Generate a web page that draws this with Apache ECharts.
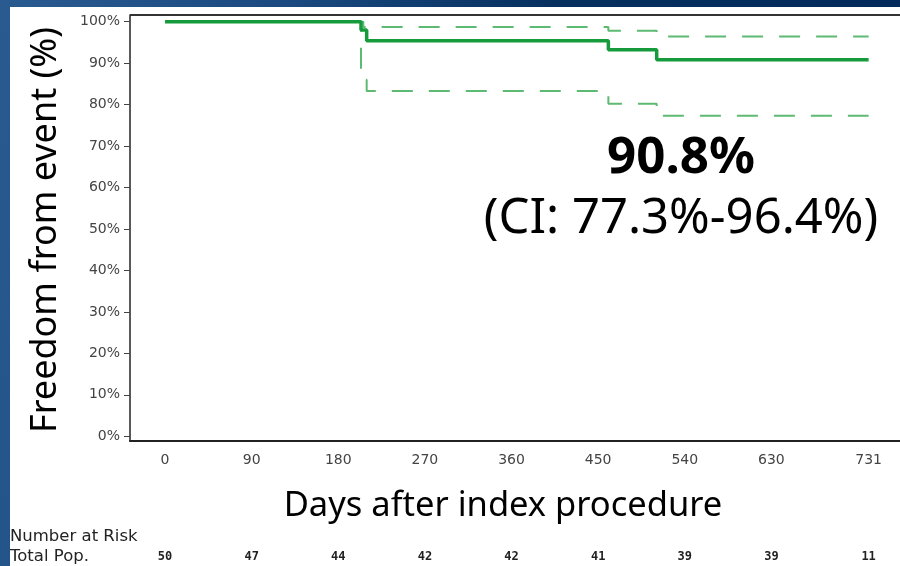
<!DOCTYPE html>
<html>
<head>
<meta charset="utf-8">
<script src="https://cdn.jsdelivr.net/npm/echarts@6/dist/echarts.min.js"></script>
<style>
html,body{margin:0;padding:0;}
#chart{width:900px;height:566px;}
</style>
</head>
<body>
<div id="chart"></div>
<script>
// ---- data ----
const eventDays = [0, 203.6, 209.5, 460.6, 510.8, 731];
const survival = [100, 98, 95.4, 93.2, 90.8, 90.8];
const lowerCI = [100, 86, 83.3, 80.2, 77.3, 77.3];
const upperDays = [0, 206, 460.6, 510.8, 731];
const upperCI = [100, 98.7, 97.8, 96.4, 96.4];
const xTickValues = [0, 90, 180, 270, 360, 450, 540, 630, 731];
const yTickValues = [0, 10, 20, 30, 40, 50, 60, 70, 80, 90, 100];
const atRiskCounts = [50, 47, 44, 42, 42, 41, 39, 39, 11];
const xTitle = 'Days after index procedure';
const yTitle = 'Freedom from event (%)';
const headline = '90.8%';
const ciText = '(CI: 77.3%-96.4%)';

const pair = (xs, ys) => xs.map((x, i) => [x, ys[i]]);

const chart = echarts.init(document.getElementById('chart'), null, {renderer: 'canvas'});
const mainGreen = '#169b3c';
const ciGreen = '#5cba72';
const X_MIN = -36.4, X_MAX = 763.6;

chart.setOption({
  animation: false,
  backgroundColor: {
    type: 'linear', x: 0, y: 0, x2: 1, y2: 0.3,
    colorStops: [{offset: 0, color: '#2a5b90'}, {offset: 0.3, color: '#1a4a80'}, {offset: 0.6, color: '#07305f'}, {offset: 1, color: '#032a5a'}]
  },
  graphic: [
    {type: 'rect', z: -10, shape: {x: 10, y: 7, width: 890, height: 559}, style: {fill: '#ffffff'}},
    {type: 'line', z: 5, shape: {x1: 130, y1: 15, x2: 900, y2: 15}, style: {stroke: '#333', lineWidth: 2}},
    {type: 'text', x: 681, y: 158, style: {text: headline, font: 'bold 51px "Noto Sans"', fill: '#000', align: 'center', verticalAlign: 'middle'}},
    {type: 'text', x: 681, y: 219, style: {text: ciText, font: '49px "Noto Sans"', fill: '#000', align: 'center', verticalAlign: 'middle'}},
    {type: 'text', x: 503, y: 506, style: {text: xTitle, font: '34.5px "Noto Sans"', fill: '#000', align: 'center', verticalAlign: 'middle'}},
    {type: 'text', x: 46, y: 230, rotation: Math.PI / 2, style: {text: yTitle, font: '36px "Noto Sans"', fill: '#000', align: 'center', verticalAlign: 'middle'}},
    {type: 'text', x: 10, y: 537, style: {text: 'Number at Risk', font: '16.5px "DejaVu Sans"', fill: '#222', align: 'left', verticalAlign: 'middle'}},
    {type: 'text', x: 10, y: 557, style: {text: 'Total Pop.', font: '16.5px "DejaVu Sans"', fill: '#222', align: 'left', verticalAlign: 'middle'}}
  ],
  grid: {left: 130, top: 15, right: 0, bottom: 125, containLabel: false},
  xAxis: [
    {
      type: 'value', min: X_MIN, max: X_MAX,
      axisLine: {show: true, onZero: false, lineStyle: {color: '#222', width: 2}},
      axisTick: {show: false},
      splitLine: {show: false},
      axisLabel: {customValues: xTickValues, margin: 12, fontFamily: 'DejaVu Sans', fontSize: 14, color: '#444'}
    },
    {
      type: 'value', min: X_MIN, max: X_MAX, position: 'bottom', offset: 104,
      axisLine: {show: false, onZero: false}, axisTick: {show: false}, splitLine: {show: false},
      axisLabel: {
        customValues: xTickValues, margin: 6,
        fontFamily: 'DejaVu Sans Mono', fontSize: 12, fontWeight: 'bold', color: '#222',
        formatter: (v) => { const i = xTickValues.indexOf(v); return i >= 0 ? String(atRiskCounts[i]) : ''; }
      }
    }
  ],
  yAxis: {
    type: 'value', min: -1.13, max: 101.6,
    axisLine: {show: true, onZero: false, lineStyle: {color: '#222', width: 1.5}},
    axisTick: {show: true, customValues: yTickValues, length: 6, lineStyle: {color: '#444'}},
    splitLine: {show: false},
    axisLabel: {customValues: yTickValues, margin: 10, fontFamily: 'DejaVu Sans', fontSize: 14, color: '#444', formatter: (v) => v + '%'}
  },
  series: [
    {
      type: 'line', step: 'end', data: pair(eventDays, lowerCI), showSymbol: false, z: 2,
      lineStyle: {color: ciGreen, width: 2, type: [21, 16]}
    },
    {
      type: 'line', step: 'end', data: pair(upperDays, upperCI), showSymbol: false, z: 2,
      lineStyle: {color: ciGreen, width: 2, type: [21, 16]}
    },
    {
      type: 'line', step: 'end', data: pair(eventDays, survival), showSymbol: false, z: 3,
      lineStyle: {color: mainGreen, width: 3.5}
    }
  ]
});
</script>
</body>
</html>
